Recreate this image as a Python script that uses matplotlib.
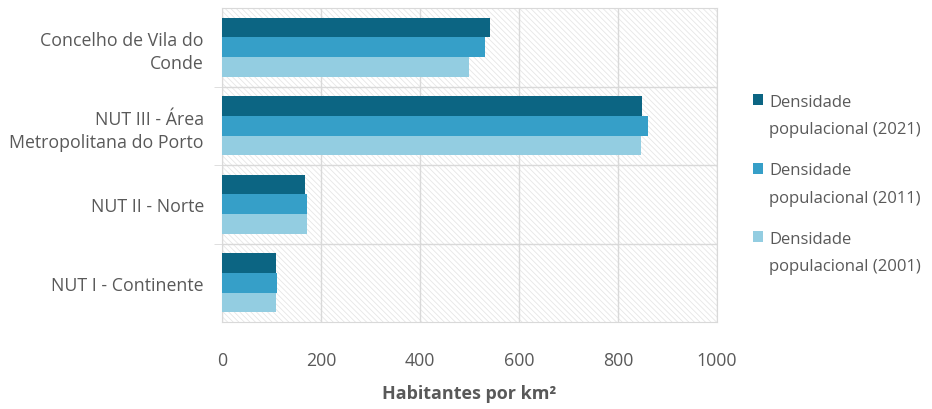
import numpy as np
import matplotlib.pyplot as plt
from matplotlib.patches import Patch, Rectangle
from matplotlib.legend_handler import HandlerPatch

plt.rcParams['font.family'] = ['Open Sans', 'DejaVu Sans']
plt.rcParams['hatch.linewidth'] = 0.6

categorias = ['Concelho de Vila do\nConde', 'NUT III - Área\nMetropolitana do Porto',
              'NUT II - Norte', 'NUT I - Continente']
dens_2021 = [541, 849, 168, 110]
dens_2011 = [531, 860, 172, 111]
dens_2001 = [498, 846, 172, 109]
series = ['Densidade\npopulacional (2021)', 'Densidade\npopulacional (2011)',
          'Densidade\npopulacional (2001)']
cores = ['#0c6583', '#369fc8', '#93cde1']
txt = '#595959'


class QuadradoTopo(HandlerPatch):
    # quadrado alinhado com a primeira linha do texto
    def create_artists(self, legend, orig, xdescent, ydescent, width, height,
                       fontsize, trans):
        r = Rectangle((-xdescent, -ydescent + 11.5), width, height,
                      facecolor=orig.get_facecolor(), edgecolor='none', transform=trans)
        return [r]


fig = plt.figure(figsize=(9.32, 4.10), dpi=100)
ax = fig.add_axes([222/932, 1 - 323/410, 495/932, 314/410])

# fundo com padrao tracejado
ax.patch.set_facecolor('white')
ax.patch.set_hatch('\\\\\\\\\\\\')
ax.patch.set_edgecolor('#e6e6e6')

y = np.arange(len(categorias))
h = 0.25
for dados, off, c, lab in zip([dens_2021, dens_2011, dens_2001], [-h, 0, h], cores, series):
    ax.barh(y + off, dados, height=h, color=c, label=lab, zorder=3)

ax.set_xlim(0, 1000)
ax.set_ylim(3.5, -0.5)
ax.set_xticks(np.arange(0, 1001, 200))
ax.set_yticks(y)
ax.set_yticklabels(categorias, linespacing=1.36)
ax.set_yticks(y[:-1] + 0.5, minor=True)

ax.grid(axis='x', color='#d9d9d9', linewidth=1, zorder=1)
ax.grid(axis='y', which='minor', color='#d9d9d9', linewidth=1, zorder=1)
ax.tick_params(axis='y', which='major', length=0, pad=13, labelsize=12.8, labelcolor=txt)
ax.tick_params(axis='y', which='minor', length=6, color='#d9d9d9')
ax.tick_params(axis='x', length=0, pad=21, labelsize=12.8, labelcolor=txt)
for s in ax.spines.values():
    s.set_color('#d9d9d9')

ax.set_xlabel('Habitantes por km²', fontsize=13, fontweight='bold', color=txt, labelpad=11)

handles = [Patch(color=c) for c in cores]
leg = fig.legend(handles, series, loc='upper left', bbox_to_anchor=(738/932, 1 - 80/410),
                 frameon=False, fontsize=12, labelcolor=txt, handlelength=0.62,
                 handleheight=0.62, handletextpad=0.35, labelspacing=1.5,
                 handler_map={Patch: QuadradoTopo()})
for t in leg.get_texts():
    t.set_linespacing(1.95)

plt.savefig('out.png', dpi=100)
